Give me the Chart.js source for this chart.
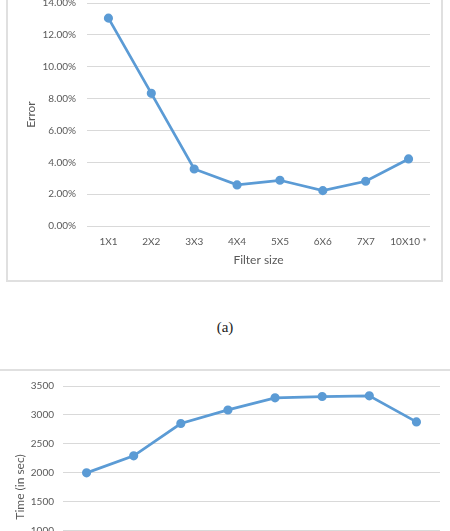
<!DOCTYPE html>
<html>
<head>
<meta charset="utf-8">
<script src="https://cdn.jsdelivr.net/npm/chart.js@4/dist/chart.umd.min.js"></script>
<style>
  html, body { margin:0; padding:0; background:#fff; }
  body { width:450px; height:531px; position:relative; overflow:hidden; }
  .frame { position:absolute; box-sizing:border-box; border:2px solid #e0e0e0; background:#fff; }
  #f1 { left:6px; top:-18px; width:437px; height:300px; }
  #f2 { left:-6px; top:369px; width:462px; height:300px; }
  canvas { position:absolute; left:0; top:0; }
  #cap { position:absolute; left:0; width:450px; top:319px; text-align:center;
         font-family:"Liberation Serif", "DejaVu Serif", serif; font-size:15px; color:#222; }
</style>
</head>
<body>
<div class="frame" id="f1"><canvas id="c1" width="433" height="296"></canvas></div>
<div id="cap">(a)</div>
<div class="frame" id="f2"><canvas id="c2" width="458" height="296"></canvas></div>
<script>
const filterSizes = ["1X1", "2X2", "3X3", "4X4", "5X5", "6X6", "7X7", "10X10 *"];
const errorPct = [13.05, 8.33, 3.58, 2.58, 2.87, 2.22, 2.81, 4.21];
const timeSec = [1995, 2290, 2850, 3085, 3295, 3318, 3330, 2878];
const errorTicks = { min: 0, max: 14, step: 2 };
const timeTicks = { min: 0, max: 3500, step: 500 };

const FONT = "Lato, 'Open Sans', sans-serif";
const TXT = "#595959";
const GRID = "#d9d9d9";
const BLUE = "#5B9BD5";

function makeChart(id, labels, data, yt, fmt, yTitle, opts) {
  return new Chart(document.getElementById(id), {
    type: 'line',
    data: {
      labels: labels,
      datasets: [{
        data: data,
        borderColor: BLUE,
        backgroundColor: BLUE,
        borderWidth: 2.75,
        pointRadius: 3.2,
        pointHoverRadius: 3.2,
        pointBackgroundColor: BLUE,
        pointBorderColor: BLUE,
        tension: 0
      }]
    },
    options: {
      responsive: false,
      animation: false,
      events: [],
      layout: { padding: opts.padding },
      plugins: { legend: { display: false }, tooltip: { enabled: false } },
      scales: {
        x: {
          offset: true,
          grid: { display: false, drawTicks: false },
          border: { display: false },
          ticks: { color: TXT, font: { family: FONT, size: 10 }, padding: 10, maxRotation: 0, autoSkip: false },
          title: { display: opts.xTitle !== null, text: opts.xTitle || '', color: TXT,
                   font: { family: FONT, size: 12 }, padding: { top: 0, bottom: 13 } },
          afterFit: s => { s.height = opts.xHeight; }
        },
        y: {
          min: yt.min, max: yt.max,
          grid: { color: GRID, lineWidth: 1, drawTicks: false },
          border: { display: false },
          ticks: { stepSize: yt.step, color: TXT, font: { family: FONT, size: 10 },
                   padding: opts.yPad, callback: fmt },
          title: { display: true, text: yTitle, color: TXT, font: { family: FONT, size: 12 },
                   padding: { top: opts.yTitlePad, bottom: 0 } },
          afterFit: s => { s.width = opts.yWidth; }
        }
      }
    }
  });
}

makeChart('c1', filterSizes, errorPct, errorTicks, v => v.toFixed(2) + '%', 'Error', {
  padding: { left: 0, right: 11, top: 19, bottom: 0 },
  xTitle: 'Filter size', xHeight: 54, yWidth: 79, yPad: 11, yTitlePad: 16
});

makeChart('c2', filterSizes, timeSec, timeTicks, v => String(v), 'Time (in sec)', {
  padding: { left: 0, right: 14, top: 13, bottom: 0 },
  xTitle: 'Filter size', xHeight: 79, yWidth: 67, yPad: 9, yTitlePad: 17
});
</script>
</body>
</html>
